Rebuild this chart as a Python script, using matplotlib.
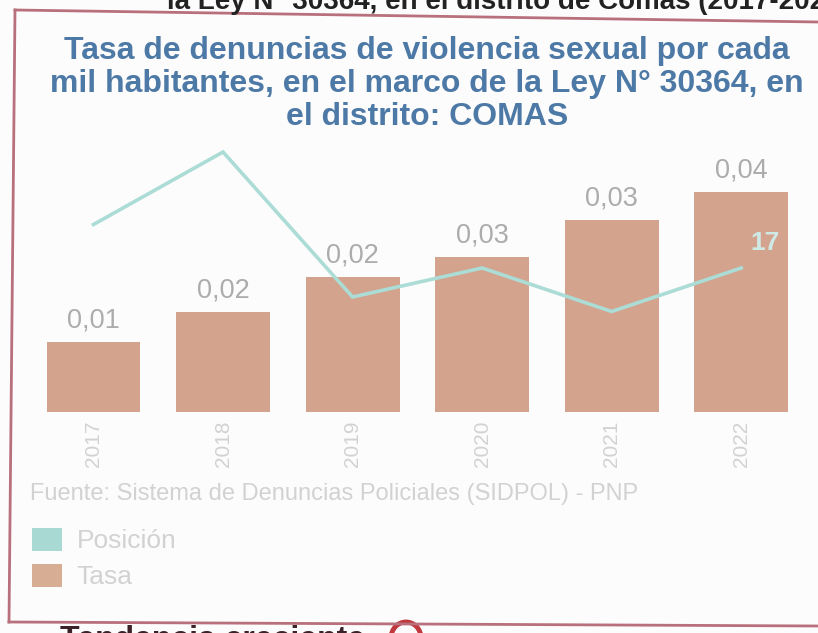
import matplotlib
matplotlib.use("Agg")
import matplotlib.pyplot as plt
from matplotlib.patches import Patch, Ellipse
from matplotlib.lines import Line2D

# ---- data ----
years = ["2017", "2018", "2019", "2020", "2021", "2022"]
tasa = [0.0127, 0.0182, 0.0245, 0.0282, 0.0349, 0.0400]
posicion = [20, 25, 15, 17, 14, 17]
title = ("Tasa de denuncias de violencia sexual por cada\n"
         "mil habitantes, en el marco de la Ley N° 30364, en\n"
         "el distrito: COMAS")
fuente = "Fuente: Sistema de Denuncias Policiales (SIDPOL) - PNP"
legend_labels = ["Posición", "Tasa"]
top_cut = "la Ley N° 30364, en el distrito de Comas (2017-2022)"
bottom_cut = "Tendencia creciente"

W, H = 818, 633
plt.rcParams['font.family'] = ['Liberation Sans', 'DejaVu Sans']

BAR = "#d4a38d"
LINE = "#abdcd5"
GREY = "#acacac"
LIGHT = "#d2d2d2"
FRAME = "#b8707c"

fig = plt.figure(figsize=(W / 100, H / 100), dpi=100, facecolor="#fdfcfc")

def fx(x):
    return x / W

def fy(y):
    return 1 - y / H

# main axes
left, right, top, bottom = 28.7, 806, 140, 412
ax = fig.add_axes([fx(left), fy(bottom), (right - left) / W, (bottom - top) / H])
ax.set_facecolor("none")
x = list(range(len(years)))
bars = ax.bar(x, tasa, width=0.725, color=BAR, zorder=2)
ax.set_xlim(-0.5, len(years) - 0.5)
ax.set_ylim(0, (bottom - top) / 5500)
for b, v in zip(bars, tasa):
    ax.annotate(f"{v:.2f}".replace(".", ","), (b.get_x() + b.get_width() / 2, v),
                xytext=(0, 6), textcoords="offset points", ha="center", va="bottom",
                fontsize=19.5, color=GREY)
ax.set_xticks(x)
ax.set_xticklabels(years, rotation=90, fontsize=15, color=LIGHT)
ax.tick_params(axis="x", length=0, pad=6)
ax.set_yticks([])
for s in ax.spines.values():
    s.set_visible(False)

ax2 = ax.twinx()
ax2.plot(x, posicion, color=LINE, lw=2.6, zorder=3, solid_joinstyle="miter")
ax2.set_ylim(17 - (bottom - 268) / 14.5, 17 + (268 - top) / 14.5)
ax2.set_yticks([])
for s in ax2.spines.values():
    s.set_visible(False)
ax2.annotate(str(posicion[-1]), (x[-1], posicion[-1]), xytext=(17, 9),
             textcoords="offset points", ha="center", va="bottom",
             fontsize=19, fontweight="bold", color="#cfeae6")

# title
fig.text(fx(427), fy(84), title, ha="center", va="center", fontsize=23,
         fontweight="bold", color="#4d79a6", linespacing=1.13)

# source
fig.text(fx(30), fy(494), fuente, ha="left", va="center", fontsize=17, color=LIGHT)

# legend
handles = [Patch(facecolor="#a8d9d3", edgecolor="none"),
           Patch(facecolor="#d7ad93", edgecolor="none")]
fig.legend(handles, legend_labels, loc="upper left",
           bbox_to_anchor=(fx(8), fy(504)), frameon=False, fontsize=19,
           labelcolor=LIGHT, handlelength=1.15, handleheight=0.95,
           handletextpad=0.55, labelspacing=0.4)

# page frame and cut-off page text
fig.add_artist(Line2D([fx(15), fx(818)], [fy(10), fy(22)], color=FRAME, lw=2))
fig.add_artist(Line2D([fx(15), fx(9)], [fy(10), fy(622)], color=FRAME, lw=2))
fig.add_artist(Line2D([fx(9), fx(818)], [fy(622), fy(626)], color=FRAME, lw=2))
fig.text(fx(850), fy(9), top_cut, ha="right", va="baseline", fontsize=20,
         fontweight="bold", color="#222222")
fig.text(fx(60), fy(648), bottom_cut, ha="left", va="baseline", fontsize=23,
         fontweight="bold", color="#3a2228")
fig.add_artist(Ellipse((fx(406), fy(638)), 30 / W, 32 / H, facecolor="none",
                       edgecolor="#c0393f", lw=3.5))

fig.savefig("out.png", dpi=100, facecolor=fig.get_facecolor())
